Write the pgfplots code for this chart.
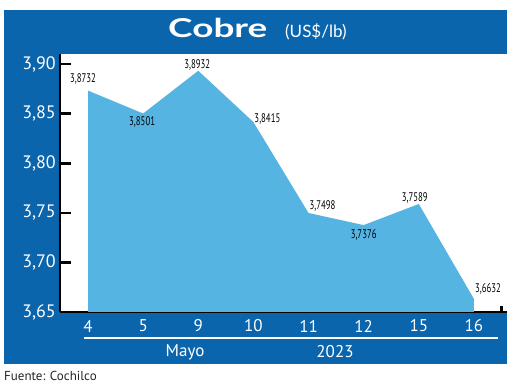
\documentclass[border=0pt]{standalone}
\usepackage{pgfplots}
\pgfplotsset{compat=1.18}
\usepackage{pgfplotstable}
\usepackage{fontspec}
\setmainfont{PT Sans}
\newfontfamily\titlefont{Lato}
\definecolor{panelblue}{HTML}{0B65AD}
\definecolor{areablue}{HTML}{56B4E3}

\pgfplotstableread{
x y lab dx dy
0 3.8732 3,8732 -5 12
1 3.8501 3,8501 -1 -8.5
2 3.8932 3,8932 -1 6
3 3.8415 3,8415 14 3
4 3.7498 3,7498 14 7
5 3.7376 3,7376 0 -10
6 3.7589 3,7589 -4 6
7 3.6632 3,6632 14 10
}\copper

\begin{document}
\begin{tikzpicture}[x=1pt,y=1pt]
\useasboundingbox (0,0) rectangle (520,386);
\fill[white] (0,0) rectangle (520,386);
\fill[panelblue] (4,22) rectangle (507,376);
\fill[white] (60,74) rectangle (507,332);
\begin{axis}[
  at={(60pt,74pt)}, anchor=south west,
  scale only axis, width=447pt, height=258pt,
  xmin=-0.508, xmax=7.6, ymin=3.65, ymax=3.9101,
  clip=false,
  axis x line=bottom, axis y line=left,
  axis line style={black, line width=2.2pt, -},
  xtick={0,...,7},
  xticklabels={4,5,9,10,11,12,15,16},
  xtick style={draw=none},
  ytick={3.65,3.70,3.75,3.80,3.85,3.90},
  ytick style={black, line width=2.6pt},
  major tick length=11pt,
  tick align=inside,
  yticklabel style={text=white, font=\fontsize{18}{18}\selectfont, anchor=east, inner sep=0pt, xshift=-4pt,
    /pgf/number format/.cd, use comma, fixed, fixed zerofill, precision=2, assume math mode=true},
  xticklabel style={text=white, font=\fontsize{17}{17}\selectfont, anchor=center, inner sep=0pt, yshift=-14pt},
]
\addplot[fill=areablue, draw=none] table[x=x, y=y] {\copper} \closedcycle;
\addplot[draw=none, mark=none,
  point meta=explicit symbolic,
  visualization depends on={\thisrow{dx} \as \dx},
  visualization depends on={\thisrow{dy} \as \dy},
  nodes near coords={\scalebox{0.7}[1]{\pgfplotspointmeta}},
  every node near coord/.append style={anchor=center, text=black, inner sep=0pt,
    font=\fontsize{12.5}{12.5}\selectfont, xshift=\dx pt, yshift=\dy pt},
] table[x=x, y=y, meta=lab] {\copper};
\end{axis}
\fill[black] (500,73) rectangle (502.5,80);
\node[anchor=base west, text=white, inner sep=0pt] at (168,348)
  {\scalebox{1.42}[1]{\titlefont\bfseries\fontsize{26}{26}\selectfont Cobre}};
\node[anchor=base west, text=white, inner sep=0pt] at (285,348)
  {\titlefont\fontsize{17}{17}\selectfont (US\$/lb)};
\fill[white] (84,47.3) rectangle (498,48.7);
\node[text=white, inner sep=0pt, font=\fontsize{17}{17}\selectfont] at (185,34) {Mayo};
\node[text=white, inner sep=0pt, font=\fontsize{17}{17}\selectfont] at (335,34) {2023};
\node[anchor=west, inner sep=0pt, text=black!85, font=\fontsize{13}{13}\selectfont] at (4,10) {Fuente: Cochilco};
\end{tikzpicture}
\end{document}
